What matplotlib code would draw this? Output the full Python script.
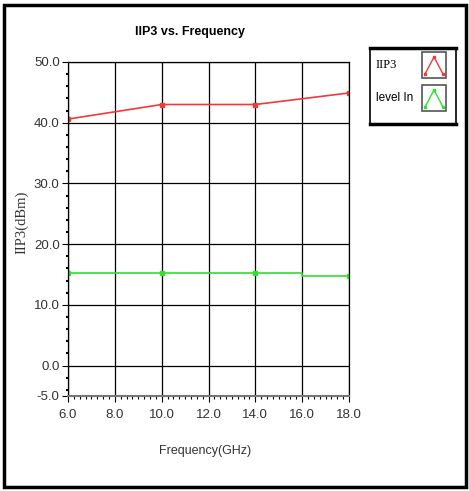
import matplotlib.pyplot as plt
import numpy as np
from matplotlib.ticker import MultipleLocator, FixedLocator
from matplotlib.patches import Rectangle

freq_iip3 = [6.0, 10.0, 14.0, 18.0]
iip3 = [40.6, 43.0, 43.0, 44.9]
freq_level = [6.0, 10.0, 14.0, 16.0, 16.0, 18.0]
level_in = [15.2, 15.2, 15.2, 15.2, 14.8, 14.8]
level_marks = [0, 1, 2, 5]
y_ticks = [-5, 0, 10, 20, 30, 40, 50]
x_ticks = [6, 8, 10, 12, 14, 16, 18]

sans = 'Liberation Sans'

fig = plt.figure(figsize=(4.69, 4.91), dpi=100)
ax = fig.add_axes([68/469, 1-396/491, (349-68)/469, (396-62)/491])

ax.plot(freq_iip3, iip3, color='#f03a3a', lw=1.2, marker='s', ms=3.5, mfc='#f03a3a', mec='#f03a3a')
ax.plot(freq_level, level_in, color='#30e030', lw=1.2, marker='s', ms=3.5,
        markevery=level_marks, mfc='#30e030', mec='#30e030')

ax.set_xlim(6, 18)
ax.set_ylim(-5, 50)
ax.xaxis.set_major_locator(FixedLocator(x_ticks))
ax.yaxis.set_major_locator(FixedLocator(y_ticks))
ax.xaxis.set_minor_locator(MultipleLocator(0.25))
ax.yaxis.set_minor_locator(MultipleLocator(2))
ax.set_xticklabels([f'{v:.1f}' for v in x_ticks])
ax.set_yticklabels([f'{v:.1f}' for v in y_ticks])
ax.grid(True, which='major', color='black', lw=0.9)
ax.tick_params(which='major', direction='out', length=4, width=0.8, labelsize=9.5, pad=2)
ax.tick_params(axis='x', which='major', pad=5)
ax.tick_params(which='minor', direction='out', length=2, width=0.8)
ax.tick_params(axis='y', which='minor', length=1.2, width=1.5)
for t in ax.get_xticklabels() + ax.get_yticklabels():
    t.set_family(sans)
    t.set_color('#333333')
for s in ax.spines.values():
    s.set_color('black')
    s.set_linewidth(0.9)
ax.spines['bottom'].set_color('#777777')
ax.spines['bottom'].set_linewidth(1.5)

fig.text(190/469, 1-32/491, 'IIP3 vs. Frequency', ha='center', va='center',
         fontsize=9, fontweight='bold', family=sans)
fig.text(205/469, 1-451/491, 'Frequency(GHz)', ha='center', va='center',
         fontsize=9, family=sans, color='#333333')
fig.text(22/469, 1-222/491, 'IIP3(dBm)', ha='center', va='center', rotation=90,
         fontsize=10.5, family='Liberation Serif', color='#333333')

# legend box
lg = fig.add_axes([370/469, 1-124/491, 86/469, 76/491])
lg.set_xlim(0, 86)
lg.set_ylim(76, 0)
lg.set_xticks([])
lg.set_yticks([])
for s in lg.spines.values():
    s.set_linewidth(1.2)
lg.spines['top'].set_linewidth(2.5)
lg.spines['bottom'].set_linewidth(2.5)
lg.text(6, 17, 'IIP3', fontsize=9, va='center', family='Liberation Serif')
lg.text(6, 50, 'level In', fontsize=8.5, va='center', family=sans)
for y0, c in [(4, '#f03a3a'), (37, '#30e030')]:
    lg.add_patch(Rectangle((52, y0), 24, 26, fill=False, ec='#555555', lw=1.2))
    lg.plot([55, 64, 73], [y0 + 22, y0 + 5, y0 + 22], color=c, lw=1, marker='s', ms=2)

fig.patches.append(Rectangle((4/469, 4/491), 462/469, 482/491, transform=fig.transFigure,
                             fill=False, ec='black', lw=2.5))
fig.savefig('out.png', dpi=100)
